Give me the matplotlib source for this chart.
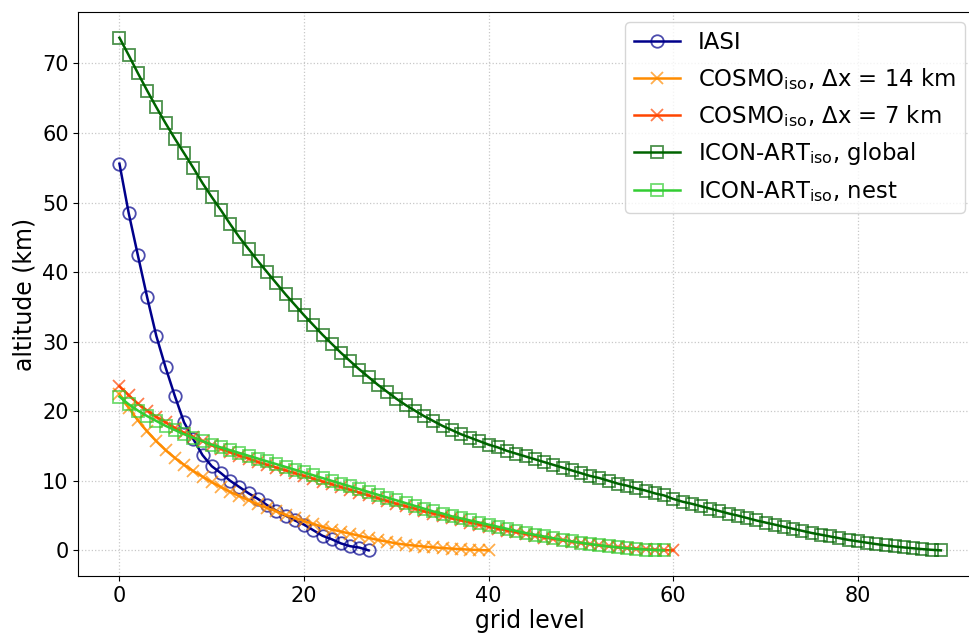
import matplotlib
matplotlib.use("Agg")
import matplotlib.pyplot as plt
import numpy as np

plt.rcParams['font.family'] = ['DejaVu Sans']
plt.rcParams['mathtext.default'] = 'regular'

iasi = [55.6, 48.5, 42.4, 36.4, 30.8, 26.3, 22.2, 18.4, 16.0, 13.7, 12.1, 11.1,
        10.0, 9.1, 8.2, 7.4, 6.5, 5.7, 5.0, 4.3, 3.7, 2.9, 2.1, 1.6, 1.0, 0.6,
        0.4, 0.0]

cosmo14 = [22.5, 20.5, 18.7, 17.1, 15.7, 14.4, 13.3, 12.3, 11.4, 10.6, 9.8,
           9.1, 8.4, 7.8, 7.2, 6.6, 6.1, 5.6, 5.1, 4.7, 4.2, 3.8, 3.4, 3.0,
           2.7, 2.4, 2.1, 1.8, 1.5, 1.25, 1.0, 0.82, 0.68, 0.55, 0.44, 0.34,
           0.25, 0.17, 0.1, 0.05, 0.0]

cosmo7 = [23.6, 22.3, 21.1, 20.1, 19.2, 18.4, 17.6, 16.9, 16.3, 15.7, 15.1,
          14.6, 14.1, 13.6, 13.2, 12.7, 12.3, 11.9, 11.5, 11.1, 10.7, 10.3,
          9.9, 9.5, 9.1, 8.7, 8.3, 7.9, 7.5, 7.1, 6.7, 6.35, 6.0, 5.6, 5.3,
          4.95, 4.6, 4.3, 4.0, 3.7, 3.4, 3.1, 2.85, 2.6, 2.35, 2.1, 1.85,
          1.65, 1.45, 1.25, 1.05, 0.88, 0.72, 0.58, 0.45, 0.34, 0.24, 0.16,
          0.09, 0.04, 0.0]

icon_global = [73.7, 71.2, 68.6, 66.1, 63.7, 61.4, 59.2, 57.1, 55.0, 52.8,
               50.8, 48.9, 46.9, 45.0, 43.3, 41.6, 40.0, 38.4, 36.8, 35.3,
               33.8, 32.4, 31.0, 29.7, 28.4, 27.2, 26.0, 24.9, 23.8, 22.8,
               21.8, 20.9, 20.1, 19.3, 18.6, 17.9, 17.3, 16.7, 16.2, 15.7,
               15.2, 14.8, 14.3, 13.9, 13.5, 13.1, 12.7, 12.3, 11.9, 11.5,
               11.1, 10.7, 10.4, 10.0, 9.6, 9.3, 8.9, 8.6, 8.2, 7.9,
               7.4, 7.0, 6.7, 6.35, 6.0, 5.65, 5.3, 5.0, 4.65, 4.3,
               4.0, 3.7, 3.4, 3.1, 2.8, 2.5, 2.25, 2.0, 1.75, 1.5,
               1.3, 1.1, 0.9, 0.72, 0.56, 0.42, 0.3, 0.18, 0.08, 0.0]

icon_nest = [22.1, 21.0, 20.1, 19.3, 18.6, 17.9, 17.3, 16.7, 16.2, 15.7, 15.2,
             14.8, 14.4, 14.0, 13.6, 13.2, 12.8, 12.4, 12.0, 11.6, 11.2, 10.8,
             10.4, 10.0, 9.6, 9.2, 8.8, 8.4, 8.0, 7.6, 7.2, 6.8, 6.4, 6.0,
             5.6, 5.3, 4.9, 4.6, 4.3, 4.0, 3.7, 3.4, 3.1, 2.8, 2.5, 2.25, 2.0,
             1.75, 1.5, 1.3, 1.1, 0.9, 0.72, 0.56, 0.42, 0.3, 0.2, 0.12, 0.05,
             0.0]

labels = ["IASI",
          r"COSMO$_{iso}$, Δx = 14 km",
          r"COSMO$_{iso}$, Δx = 7 km",
          r"ICON-ART$_{iso}$, global",
          r"ICON-ART$_{iso}$, nest"]

fig = plt.figure(figsize=(9.7, 6.35), dpi=100)
ax = fig.add_axes([0.0808, 0.0929, 0.9316, 0.888])

def rgba(c, a):
    r, g, b, _ = matplotlib.colors.to_rgba(c)
    return (r, g, b, a)

series = [
    (iasi, 'darkblue', 'o', labels[0]),
    (cosmo14, 'darkorange', 'x', labels[1]),
    (cosmo7, 'orangered', 'x', labels[2]),
    (icon_global, 'darkgreen', 's', labels[3]),
    (icon_nest, 'limegreen', 's', labels[4]),
]
for vals, col, mk, lab in series:
    x = np.arange(len(vals))
    ax.plot(x, vals, color=col, lw=1.8, marker=mk, markersize=9,
            markerfacecolor='none', markeredgecolor=rgba(col, 0.7),
            markeredgewidth=1.3, label=lab)

ax.grid(True, linestyle=':', color='#c8c8c8', linewidth=0.9)
ax.set_axisbelow(True)
ax.tick_params(labelsize=15)
ax.set_xlabel("grid level", fontsize=17, labelpad=2)
ax.set_ylabel("altitude (km)", fontsize=17, labelpad=4)
ax.set_xticks([0, 20, 40, 60, 80])
ax.set_yticks([0, 10, 20, 30, 40, 50, 60, 70])
ax.legend(loc='upper left', bbox_to_anchor=(0.605, 0.982), fontsize=16.4,
          framealpha=0.8, handlelength=2.0, borderaxespad=0)

fig.savefig("out.png", dpi=100)
